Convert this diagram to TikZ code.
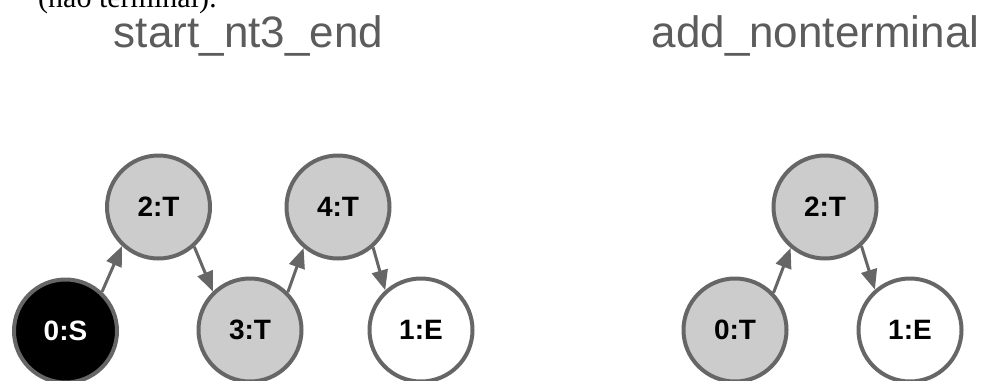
\documentclass[tikz,border=0pt]{standalone}
\usepackage{fontspec}
\setmainfont{Liberation Sans}
\newfontfamily\pageserif{Liberation Serif}
\usetikzlibrary{arrows.meta}
\definecolor{nodegray}{HTML}{CCCCCC}
\definecolor{rimgray}{HTML}{666666}
\definecolor{titlegray}{HTML}{5C5C5C}

\tikzset{
  gnode/.style={circle, draw=rimgray, line width=4pt, minimum size=103pt, inner sep=0pt,
    font=\bfseries\fontsize{28}{28}\selectfont},
  ntnode/.style={gnode, fill=nodegray},
  startnode/.style={gnode, fill=black, text=white},
  endnode/.style={gnode, fill=white},
  trans/.style={draw=rimgray, line width=3pt, -{Triangle[length=20pt,width=16pt]}},
  gtitle/.style={anchor=base, text=titlegray, font=\fontsize{44}{44}\selectfont}
}

\begin{document}
\begin{tikzpicture}[x=1pt, y=-1pt]
	\useasboundingbox (0,0) rectangle (984,380);
	\clip (0,0) rectangle (984,380);
	
	%page text cut off at the top
	\node[anchor=base west, inner sep=0pt, font=\pageserif\fontsize{30}{30}\selectfont] (pagetext) at (38,7) {(não terminal):};
	
	%titles
	\node[gtitle] (lefttitle) at (248.5,47) {start\_nt3\_end};
	\node[gtitle] (righttitle) at (815.5,47) {add\_nonterminal};
	
	%Drawing graph start_nt3_end
	\node[startnode] (s0) at (65.5,331) {0:S};
	\node[ntnode] (t2) at (158.5,207) {2:T};
	\node[ntnode] (t3) at (250,330) {3:T};
	\node[ntnode] (t4) at (338,207) {4:T};
	\node[endnode] (e1) at (421,330) {1:E};
	\draw[trans] (s0.47)--(t2.227);
	\draw[trans] (t2.-48)--(t3.134);
	\draw[trans] (t3.45)--(t4.230);
	\draw[trans] (t4.-49)--(e1.132);
	
	%Drawing graph add_nonterminal
	\node[ntnode] (a0) at (735,330) {0:T};
	\node[ntnode] (a2) at (825,207) {2:T};
	\node[endnode] (a1) at (910,330) {1:E};
	\draw[trans] (a0.44)--(a2.230);
	\draw[trans] (a2.-47)--(a1.131);
	
\end{tikzpicture}
\end{document}
